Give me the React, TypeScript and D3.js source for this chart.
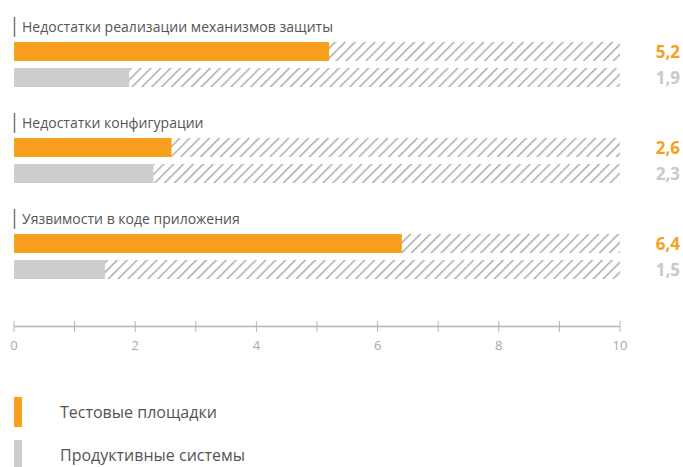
import React from "react";
import * as d3 from "d3";

const categories = [
  "Недостатки реализации механизмов защиты",
  "Недостатки конфигурации",
  "Уязвимости в коде приложения",
];
const testValues = [5.2, 2.6, 6.4];
const prodValues = [1.9, 2.3, 1.5];
const seriesNames = ["Тестовые площадки", "Продуктивные системы"];
const xTicks = [0, 1, 2, 3, 4, 5, 6, 7, 8, 9, 10];
const xLabels = [0, 2, 4, 6, 8, 10];

const ORANGE = "#F7A01D";
const GRAY = "#CDCCCE";
const GRAY_TEXT = "#C9C9CB";

export default function App() {
  const x = d3.scaleLinear().domain([0, 10]).range([14, 620]);
  const groupY = d3.scaleLinear().domain([0, 1]).range([0, 96]);
  const fmt = (v: number) => v.toFixed(1).replace(".", ",");

  return (
    <svg width={683} height={467} style={{ position: "absolute", left: 0, top: 0, fontFamily: "'Open Sans', sans-serif" }}>
      <defs>
        <pattern id="hatch" patternUnits="userSpaceOnUse" width={7} height={7} patternTransform="rotate(45)">
          <rect width={7} height={7} fill="#fff" />
          <line x1={0} y1={0} x2={0} y2={7} stroke="#ABABAE" strokeWidth={3} />
        </pattern>
      </defs>
      {categories.map((c, i) => {
        const gy = groupY(i);
        const rows = [
          { v: testValues[i], color: ORANGE, text: ORANGE, y: gy + 42 },
          { v: prodValues[i], color: GRAY, text: GRAY_TEXT, y: gy + 68 },
        ];
        return (
          <g key={c}>
            <line x1={14.5} x2={14.5} y1={gy + 17} y2={gy + 37} stroke="#777" strokeWidth={1.5} />
            <text x={22} y={gy + 32} fontSize={14} fill="#555" textLength={c === categories[0] ? 311 : undefined}>{c}</text>
            {rows.map((r, j) => (
              <g key={j}>
                <rect x={x(0)} y={r.y} width={x(10) - x(0)} height={19} fill="url(#hatch)" />
                <rect x={x(0)} y={r.y} width={x(r.v) - x(0)} height={19} fill={r.color} />
                <text x={680} y={r.y + 16} fontSize={17} fontWeight="bold" textAnchor="end" fill={r.text}>{fmt(r.v)}</text>
              </g>
            ))}
          </g>
        );
      })}
      <line x1={x(0)} x2={x(10)} y1={326.5} y2={326.5} stroke="#B5B5BA" strokeWidth={1.5} />
      {xTicks.map((t) => (
        <line key={t} x1={x(t)} x2={x(t)} y1={321} y2={332} stroke="#B5B5BA" strokeWidth={1} />
      ))}
      {xLabels.map((t) => (
        <text key={t} x={x(t)} y={350} fontSize={13} textAnchor="middle" fill="#A8A8AE">{t}</text>
      ))}
      {seriesNames.map((s, i) => (
        <g key={s}>
          <rect x={14} y={397 + i * 43} width={8} height={30} fill={i === 0 ? ORANGE : GRAY} />
          <text x={60} y={418 + i * 43} fontSize={16} fill="#555">{s}</text>
        </g>
      ))}
    </svg>
  );
}
